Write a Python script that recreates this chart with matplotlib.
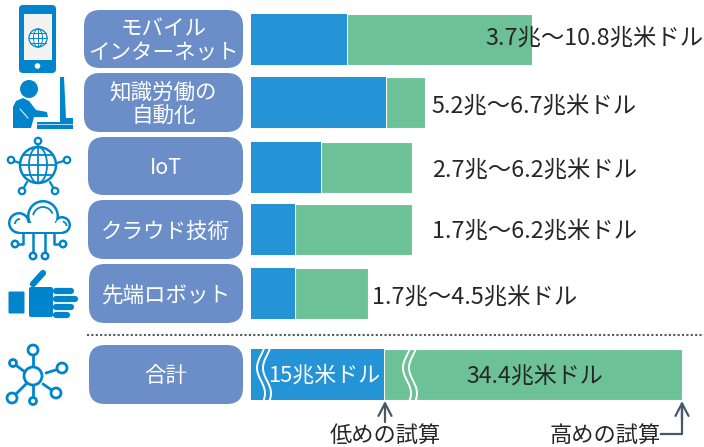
"""
Ekonomski uticaj tehnologija: niske i visoke procene po oblasti (reprodukcija grafika).
"""

import numpy as np
import matplotlib
matplotlib.use("Agg")
import matplotlib.pyplot as plt
from matplotlib.patches import Circle, FancyBboxPatch, Polygon, Rectangle, Arc

plt.rcParams["font.family"] = ["Noto Sans CJK JP", "DejaVu Sans"]

W, H = 704, 447

CATEGORIES = ["モバイル\nインターネット", "知識労働の\n自動化", "IoT", "クラウド技術", "先端ロボット"]
LOW_VALUES = [3.7, 5.2, 2.7, 1.7, 1.7]
HIGH_VALUES = [10.8, 6.7, 6.2, 6.2, 4.5]
VALUE_LABELS = ["3.7兆〜10.8兆米ドル", "5.2兆〜6.7兆米ドル", "2.7兆〜6.2兆米ドル",
                "1.7兆〜6.2兆米ドル", "1.7兆〜4.5兆米ドル"]

TOTAL_LABEL = "合計"
TOTAL_LOW_LABEL = "15兆米ドル"
TOTAL_HIGH_LABEL = "34.4兆米ドル"
# zbir je prikazan sa prekinutom skalom, pa su ovo nacrtane duzine
TOTAL_LOW_DRAWN = 5.12
TOTAL_HIGH_DRAWN = 16.58

LOW_NOTE = "低めの試算"
HIGH_NOTE = "高めの試算"

BLUE = "#2594D6"
GREEN = "#6CC296"
PILL = "#6C8EC8"
ICON = "#0085CC"
DARK = "#44596A"
TEXT = "#262626"

PX_PER_UNIT = 26
BAR_LEFT = 251

ROWS = [(14, 65), (77, 128), (142, 193), (204, 255), (268, 319)]
TOTAL_ROW = (349, 400)
PILLS = [(84, 10, 68), (84, 73, 132), (88, 137, 195), (88, 200, 259), (89, 264, 323)]
TOTAL_PILL = (89, 345, 404)
LABEL_POS = [(485, 38), (431, 106), (432, 170), (432, 231), (372, 297)]


def pill(ax, left, top, bottom, text, size=15.5):
    r = 16
    ax.add_patch(FancyBboxPatch((left + r, top + r), 243 - left - 2 * r, bottom - top - 2 * r,
                                boxstyle=f"round,pad={r},rounding_size={r}",
                                fc=PILL, ec="none", zorder=2))
    ax.text((left + 243) / 2, (top + bottom) / 2 + 2, text, color="white", fontsize=size,
            ha="center", va="center", linespacing=1.12, zorder=3)


def ring(ax, x, y, r, lw=2.0):
    ax.add_patch(Circle((x, y), r, fc="white", ec=ICON, lw=lw, zorder=4))


def link(ax, xs, ys, lw=2.0):
    ax.plot(xs, ys, color=ICON, lw=lw, solid_capstyle="round", zorder=3)


def globe(ax, x, y, r, lw, grid_lw):
    ax.add_patch(Circle((x, y), r, fc="white", ec=ICON, lw=lw, zorder=5))
    ax.add_patch(Arc((x, y), r, 2 * r, color=ICON, lw=grid_lw, zorder=5))
    ax.plot([x, x], [y - r, y + r], color=ICON, lw=grid_lw, zorder=5)
    ax.plot([x - r, x + r], [y, y], color=ICON, lw=grid_lw, zorder=5)
    for k in (-0.55, 0.55):
        half = r * np.sqrt(1 - k ** 2)
        ax.plot([x - half, x + half], [y + k * r, y + k * r], color=ICON, lw=grid_lw, zorder=5)


def draw_phone(ax):
    ax.add_patch(FancyBboxPatch((22, 8), 31, 62, boxstyle="round,pad=3,rounding_size=4",
                                fc=ICON, ec="none", zorder=3))
    ax.add_patch(Rectangle((24, 14), 28, 46, fc="#F2F2F2", ec="none", zorder=4))
    ax.add_patch(Circle((37.5, 66), 2.8, fc="white", ec="none", zorder=4))
    globe(ax, 38, 38, 9, 0.9, 0.7)


def draw_person(ax):
    ax.add_patch(Circle((29, 89), 9, fc=ICON, ec="none", zorder=3))
    body = [(13, 128), (13, 107), (16, 101), (23, 98), (29, 101), (36, 110), (47, 112),
            (48, 117), (34, 117), (31, 128)]
    ax.add_patch(Polygon(body, fc=ICON, ec="none", zorder=3))
    ax.plot([20, 28], [109, 118], color="white", lw=0.7, zorder=4)
    ax.add_patch(Polygon([(60, 77), (64, 77), (66, 118), (73, 118), (73, 122), (60, 122)],
                         fc=ICON, ec="none", zorder=3))
    ax.add_patch(Rectangle((37, 122), 36, 7, fc=ICON, ec="none", zorder=3))
    ax.plot([37, 73], [124, 124], color="white", lw=0.5, zorder=4)


def draw_iot(ax):
    for nx, ny, ex, ey in [(38, 141, 38, 146), (11, 160, 20, 163), (67, 160, 57, 163),
                           (22, 191, 27, 182), (55, 191, 50, 182)]:
        link(ax, [nx, ex], [ny, ey], lw=1.6)
        ring(ax, nx, ny, 3.2, lw=1.6)
    globe(ax, 38, 165, 18, 1.8, 1.3)


def draw_cloud(ax):
    lobes = [(43, 216, 16), (19, 223, 11), (62, 225, 9)]
    for x, y, r in lobes:
        ax.add_patch(Circle((x, y), r, fc=ICON, ec="none", zorder=3))
    ax.add_patch(Rectangle((19, 224), 43, 10, fc=ICON, ec="none", zorder=3))
    for x, y, r in lobes:
        ax.add_patch(Circle((x, y), r - 2.5, fc="white", ec="none", zorder=4))
    ax.add_patch(Rectangle((19, 223), 43, 8.5, fc="white", ec="none", zorder=4))
    ax.add_patch(Arc((43, 217), 20, 20, theta1=190, theta2=340, color=ICON, lw=1.3, zorder=5))
    ax.add_patch(Arc((20, 224), 10, 10, theta1=180, theta2=270, color=ICON, lw=1.3, zorder=5))
    ax.add_patch(Arc((62, 226), 9, 9, theta1=280, theta2=360, color=ICON, lw=1.3, zorder=5))
    for x in (33, 45):
        link(ax, [x, x], [234, 252], lw=1.8)
        ring(ax, x, 256, 3.2, lw=1.8)
    link(ax, [23, 23, 19], [234, 244, 244], lw=1.8)
    ring(ax, 15, 244, 3.2, lw=1.8)
    link(ax, [54, 54, 59], [234, 244, 244], lw=1.8)
    ring(ax, 63, 244, 3.2, lw=1.8)


def draw_hand(ax):
    ax.add_patch(FancyBboxPatch((9, 292), 15, 21, boxstyle="round,pad=0.5,rounding_size=1",
                                fc=ICON, ec="none", zorder=3))
    ax.add_patch(FancyBboxPatch((30, 288), 22, 28, boxstyle="round,pad=1,rounding_size=2",
                                fc=ICON, ec="none", zorder=3))
    link(ax, [33, 43], [284, 273], lw=4.5)
    for y, right in [(291, 71), (299, 75), (307, 71), (315, 67)]:
        link(ax, [56, right], [y, y], lw=4.5)


def draw_hub(ax):
    spokes = [(33, 350, 5, 33, 366), (13, 363, 3.5, 25, 372), (62, 368, 5, 46, 373),
              (56, 393, 5, 43, 384), (33, 401, 3.5, 33, 386), (12, 398, 5, 26, 384)]
    for nx, ny, r, ex, ey in spokes:
        link(ax, [nx, ex], [ny, ey])
        ring(ax, nx, ny, r)
    ring(ax, 33, 376, 9)


def wave(ax, center, top, bottom):
    # beli talasasti prekid skale
    t = np.linspace(0, 1, 60)
    for dx in (0, 6):
        xs = center + dx - 4 * np.sin(2 * np.pi * (t - 0.12))
        ax.plot(xs, top + t * (bottom - top), color="white", lw=1.4, zorder=4)


def main():
    fig = plt.figure(figsize=(W / 100, H / 100), dpi=100)
    ax = fig.add_axes([0, 0, 1, 1])
    ax.set_xlim(0, W)
    ax.set_ylim(H, 0)
    ax.axis("off")

    for (top, bottom), low, high in zip(ROWS, LOW_VALUES, HIGH_VALUES):
        ax.barh((top + bottom) / 2, (high - low) * PX_PER_UNIT, height=bottom - top,
                left=BAR_LEFT + low * PX_PER_UNIT, color=GREEN, edgecolor="white", linewidth=0.8, zorder=1)
        ax.barh((top + bottom) / 2, low * PX_PER_UNIT, height=bottom - top,
                left=BAR_LEFT, color=BLUE, edgecolor="none", zorder=2)

    top, bottom = TOTAL_ROW
    ax.barh((top + bottom) / 2, (TOTAL_HIGH_DRAWN - TOTAL_LOW_DRAWN) * PX_PER_UNIT, height=bottom - top,
            left=BAR_LEFT + TOTAL_LOW_DRAWN * PX_PER_UNIT, color=GREEN, edgecolor="white", linewidth=0.8, zorder=1)
    ax.barh((top + bottom) / 2, TOTAL_LOW_DRAWN * PX_PER_UNIT, height=bottom - top,
            left=BAR_LEFT, color=BLUE, edgecolor="none", zorder=2)
    wave(ax, 261, top, bottom)
    wave(ax, 407, top, bottom)

    for (left, p_top, p_bottom), name in zip(PILLS, CATEGORIES):
        pill(ax, left, p_top, p_bottom, name)
    pill(ax, TOTAL_PILL[0], TOTAL_PILL[1], TOTAL_PILL[2], TOTAL_LABEL)

    for (x, y), label in zip(LABEL_POS, VALUE_LABELS):
        ax.text(x, y, label, fontsize=16.8, color=TEXT, ha="left", va="center", zorder=6)

    ax.text(324, 376, TOTAL_LOW_LABEL, fontsize=15.8, color="white", ha="center", va="center", zorder=6)
    ax.text(535, 376, TOTAL_HIGH_LABEL, fontsize=16.6, color=TEXT, ha="center", va="center", zorder=6)

    ax.plot([87, W], [335, 335], color="#4A5A66", lw=1.5, linestyle=(0, (1, 1.1)), zorder=1)

    head = "->,head_width=0.47,head_length=0.9"
    ax.annotate("", xy=(385, 401), xytext=(385, 422),
                arrowprops=dict(arrowstyle=head, color=DARK, lw=1.6, shrinkA=0, shrinkB=0))
    ax.plot([661, 682, 682], [434, 434, 405], color=DARK, lw=1.6, zorder=3)
    ax.annotate("", xy=(682, 401), xytext=(682, 420),
                arrowprops=dict(arrowstyle=head, color=DARK, lw=1.6, shrinkA=0, shrinkB=0))
    ax.text(385, 435, LOW_NOTE, fontsize=16, color=TEXT, ha="center", va="center")
    ax.text(605, 435, HIGH_NOTE, fontsize=16, color=TEXT, ha="center", va="center")

    draw_phone(ax)
    draw_person(ax)
    draw_iot(ax)
    draw_cloud(ax)
    draw_hand(ax)
    draw_hub(ax)

    fig.savefig("out.png", dpi=100)
    plt.close(fig)


if __name__ == "__main__":
    main()
